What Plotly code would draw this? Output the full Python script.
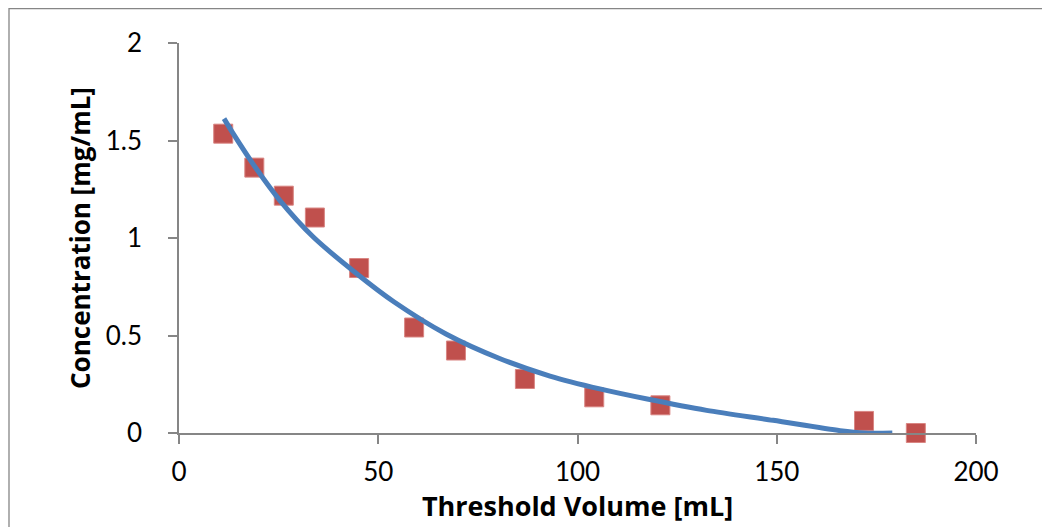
import plotly.graph_objects as go

# Measured data points (Threshold Volume [mL], Concentration [mg/mL])
volume = [11.1, 18.9, 26.3, 34.1, 45.2, 59.0, 69.5, 86.8, 104.2, 120.8, 171.9, 184.9]
concentration = [1.535, 1.361, 1.217, 1.105, 0.846, 0.541, 0.423, 0.277, 0.183, 0.142, 0.062, 0.0]

# Trendline
trend_x = [11.3, 13.6, 19.1, 25.3, 33.7, 44.6, 54.0, 67.0, 80.6, 93.1, 105.6, 117.5,
           132.4, 149.1, 165.9, 172.0, 179.0]
trend_y = [1.612, 1.535, 1.364, 1.193, 1.005, 0.817, 0.672, 0.508, 0.381, 0.292, 0.226, 0.174,
           0.116, 0.065, 0.012, 0.0, 0.0]

x_ticks = [0, 50, 100, 150, 200]
y_ticks = [0, 0.5, 1, 1.5, 2]
y_tick_text = ["0", "0.5", "1", "1.5", "2"]

FONT = "Lato"
TITLE_FONT = "Open Sans"
AXIS_COLOR = "#868686"

fig = go.Figure()
fig.add_trace(go.Scatter(
    x=volume, y=concentration, mode="markers",
    marker=dict(symbol="square", size=19, color="#C0504D",
                line=dict(color="#D98683", width=1)),
    cliponaxis=False, showlegend=False,
))
fig.add_trace(go.Scatter(
    x=trend_x, y=trend_y, mode="lines",
    line=dict(color="#4A7EBB", width=5, shape="spline", smoothing=0.8),
    showlegend=False,
))

fig.update_layout(
    width=1042, height=519,
    margin=dict(l=171, r=74, t=35, b=94),
    paper_bgcolor="white", plot_bgcolor="white",
    font=dict(family=FONT, size=26, color="black"),
    shapes=[dict(type="rect", xref="paper", yref="paper",
                 x0=-0.2133, x1=1.2, y0=-0.3, y1=1.0885,
                 line=dict(color=AXIS_COLOR, width=1.3), fillcolor="rgba(0,0,0,0)",
                 layer="below")],
)
fig.update_xaxes(
    range=[0, 200], tickvals=x_ticks, ticktext=[str(v) for v in x_ticks],
    showgrid=False, zeroline=False, showline=True, linecolor=AXIS_COLOR, linewidth=1.5,
    ticks="outside", ticklen=9, tickcolor=AXIS_COLOR, tickwidth=1.5,
    ticklabelstandoff=6,
    title=dict(text="<b>Threshold Volume [mL]</b>", font=dict(family=TITLE_FONT, size=27), standoff=3),
)
fig.update_yaxes(
    range=[0, 2], tickvals=y_ticks, ticktext=y_tick_text,
    showgrid=False, zeroline=False, showline=True, linecolor=AXIS_COLOR, linewidth=1.5,
    ticks="outside", ticklen=9, tickcolor=AXIS_COLOR, tickwidth=1.5,
    ticklabelstandoff=21,
    title=dict(text="<b>Concentration [mg/mL]</b>", font=dict(family=TITLE_FONT, size=26), standoff=8),
)

fig.write_html("out.html")
